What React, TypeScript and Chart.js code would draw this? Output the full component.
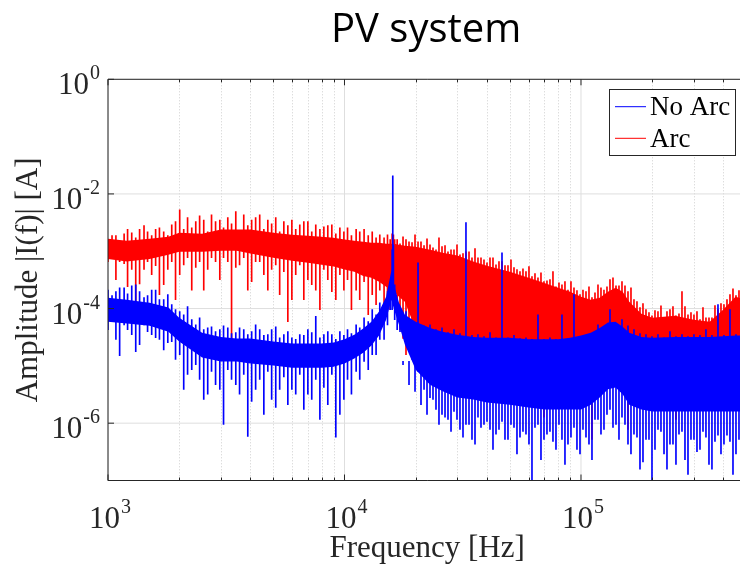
import React, { useEffect, useRef } from 'react';
import { Chart, registerables } from 'chart.js';

Chart.register(...registerables);

// ---------- DATA ----------
// Frequencies (Hz) at which the solid core of each noisy band was read
const bandFreq = [
  1000, 1200, 1500, 1800, 2000, 2500, 3000, 3500, 4000, 5000,
  6000, 7000, 8000, 9000, 10000, 11000, 12000, 13000, 14000, 15000,
  15800, 16200, 17000, 18000, 20000, 23000, 26000, 30000, 35000, 40000,
  50000, 60000, 70000, 80000, 90000, 100000, 110000, 120000, 130000, 140000,
  150000, 160000, 180000, 200000, 250000, 300000, 350000, 400000, 450000, 500000,
];

// "Arc": upper / lower edge of the dense core (A)
const arcBandHigh = [
  1.65e-3, 1.52e-3, 1.65e-3, 1.79e-3, 2.1e-3, 2.02e-3, 2.4e-3, 2.4e-3, 2.4e-3, 2.1e-3,
  1.94e-3, 1.87e-3, 1.79e-3, 1.72e-3, 1.6e-3, 1.52e-3, 1.46e-3, 1.41e-3, 1.41e-3, 1.35e-3,
  1.35e-3, 1.35e-3, 1.3e-3, 1.25e-3, 1.2e-3, 1.06e-3, 9.4e-4, 8.4e-4, 6.6e-4, 5.6e-4,
  4.4e-4, 3.45e-4, 2.8e-4, 2.3e-4, 1.97e-4, 1.61e-4, 1.43e-4, 1.55e-4, 1.97e-4, 2.3e-4,
  1.97e-4, 1.32e-4, 8.1e-5, 6.9e-5, 7.5e-5, 6.4e-5, 5.9e-5, 9.6e-5, 1.61e-4, 1.43e-4,
];
const arcBandLow = [
  7.3e-4, 6.6e-4, 7.3e-4, 8.7e-4, 9.8e-4, 9.8e-4, 1.02e-3, 1.02e-3, 9.1e-4, 7.7e-4,
  6.8e-4, 6.3e-4, 5.8e-4, 5.4e-4, 4.8e-4, 4.4e-4, 3.7e-4, 3.45e-4, 2.95e-4, 2.4e-4,
  2.1e-4, 1.97e-4, 1.61e-4, 1.32e-4, 4.3e-5, 1.5e-5, 1.5e-5, 1.5e-5, 1.5e-5, 1.5e-5,
  1.5e-5, 1.5e-5, 1.5e-5, 1.5e-5, 1.5e-5, 1.5e-5, 1.5e-5, 1.5e-5, 1.5e-5, 1.5e-5,
  1.5e-5, 1.5e-5, 1.5e-5, 1.5e-5, 1.5e-5, 1.5e-5, 1.5e-5, 1.5e-5, 1.5e-5, 1.5e-5,
];

// "No Arc": upper / lower edge of the dense core (A)
const noArcBandHigh = [
  1.55e-4, 1.43e-4, 1.26e-4, 1.04e-4, 6.9e-5, 3.8e-5, 3.2e-5, 3.0e-5, 3.0e-5, 2.65e-5,
  2.45e-5, 2.45e-5, 2.45e-5, 2.55e-5, 2.9e-5, 3.5e-5, 4.5e-5, 5.9e-5, 8.9e-5, 1.61e-4,
  4.7e-4, 2.6e-4, 1.26e-4, 7.8e-5, 5.9e-5, 4.6e-5, 3.95e-5, 3.5e-5, 3.2e-5, 3.1e-5,
  3.1e-5, 2.9e-5, 2.9e-5, 2.9e-5, 3.1e-5, 3.4e-5, 3.8e-5, 4.6e-5, 5.7e-5, 5.9e-5,
  4.8e-5, 3.8e-5, 3.2e-5, 3.1e-5, 3.2e-5, 3.2e-5, 3.2e-5, 3.3e-5, 3.4e-5, 3.4e-5,
];
const noArcBandLow = [
  5.9e-5, 5.5e-5, 5.0e-5, 3.95e-5, 2.65e-5, 1.4e-5, 1.19e-5, 1.19e-5, 1.1e-5, 1.01e-5,
  9.3e-6, 9.3e-6, 9.3e-6, 9.7e-6, 1.1e-5, 1.34e-5, 1.7e-5, 2.26e-5, 3.4e-5, 6.4e-5,
  1.43e-4, 9.6e-5, 5.2e-5, 2.35e-5, 8.6e-6, 4.7e-6, 3.6e-6, 2.8e-6, 2.6e-6, 2.3e-6,
  2.1e-6, 1.88e-6, 1.73e-6, 1.73e-6, 1.73e-6, 1.73e-6, 2.1e-6, 2.8e-6, 3.9e-6, 4.2e-6,
  3.2e-6, 2.1e-6, 1.73e-6, 1.6e-6, 1.6e-6, 1.6e-6, 1.6e-6, 1.6e-6, 1.6e-6, 1.6e-6,
];

// Frequencies (Hz) of individual spikes of the traces
const spikeFreq = [
  1000, 1040, 1080, 1120, 1170, 1210, 1260, 1310, 1360, 1420,
  1470, 1530, 1590, 1650, 1720, 1790, 1860, 1930, 2010, 2090,
  2170, 2260, 2350, 2440, 2540, 2640, 2740, 2850, 2970, 3080,
  3210, 3330, 3470, 3600, 3750, 3900, 4050, 4210, 4380, 4560,
  4740, 4920, 5120, 5320, 5540, 5760, 5990, 6220, 6470, 6730,
  7000, 7270, 7560, 7870, 8180, 8500, 8840, 9190, 9560, 9940,
  10300, 10700, 11200, 11600, 12100, 12600, 13100, 13600, 14100, 14700,
  15200, 15600, 15900, 16000, 16100, 16300, 16700, 17170, 18200, 19300,
  20460, 21690, 22990, 24370, 25840, 27390, 29040, 30780, 32630, 34600,
  36680, 38890, 41230, 43710, 46340, 49120, 52080, 55210, 58530, 62050,
  65780, 69740, 73930, 78380, 83090, 88100, 93400, 99030, 104980, 111290,
  117990, 125080, 132610, 140590, 149050, 158010, 167510, 177590, 188270, 199600,
  211600, 224400, 237800, 252100, 267300, 283400, 300400, 318500, 337600, 357900,
  379500, 402300, 426500, 452200, 479400, 500000,
];

// "Arc": top / bottom tip of the trace at each spike frequency (A)
const arcSpikeHigh = [
  1.6e-3, 1.87e-3, 1.87e-3, 1.46e-3, 2.02e-3, 2.4e-3, 2.1e-3, 1.72e-3, 2.4e-3, 2.8e-3,
  2.19e-3, 1.87e-3, 2.4e-3, 2.57e-3, 2.19e-3, 1.87e-3, 2.9e-3, 3.3e-3, 5.3e-3, 2.4e-3,
  3.85e-3, 2.57e-3, 3.3e-3, 4.15e-3, 3.5e-3, 2.19e-3, 4.3e-3, 3.3e-3, 3.5e-3, 2.57e-3,
  3.85e-3, 3.0e-3, 4.9e-3, 2.19e-3, 4.3e-3, 2.8e-3, 3.5e-3, 3.85e-3, 4.3e-3, 2.4e-3,
  3.5e-3, 3.0e-3, 3.85e-3, 2.19e-3, 3.3e-3, 2.8e-3, 3.5e-3, 2.4e-3, 2.9e-3, 3.3e-3,
  3.3e-3, 2.19e-3, 2.9e-3, 2.4e-3, 2.67e-3, 2.8e-3, 2.9e-3, 2.02e-3, 2.57e-3, 2.19e-3,
  2.57e-3, 1.87e-3, 2.4e-3, 2.19e-3, 2.4e-3, 1.87e-3, 2.19e-3, 1.72e-3, 1.94e-3, 1.72e-3,
  1.94e-3, 1.6e-3, 2.02e-3, 1.72e-3, 1.94e-3, 1.6e-3, 1.6e-3, 1.35e-3, 1.6e-3, 1.41e-3,
  1.46e-3, 1.25e-3, 1.3e-3, 1.06e-3, 1.2e-3, 9.8e-4, 1.06e-3, 8.7e-4, 9.8e-4, 7.7e-4,
  7.7e-4, 7.1e-4, 7.7e-4, 5.8e-4, 6.6e-4, 5.6e-4, 5.2e-4, 4.4e-4, 4.4e-4, 3.6e-4,
  3.45e-4, 2.95e-4, 3.2e-4, 2.4e-4, 2.6e-4, 2.1e-4, 2.3e-4, 1.75e-4, 1.97e-4, 1.55e-4,
  2.6e-4, 2.1e-4, 3.2e-4, 2.5e-4, 2.95e-4, 1.97e-4, 1.43e-4, 1.04e-4, 9.6e-5, 7.5e-5,
  8.9e-5, 6.9e-5, 9.6e-5, 7.5e-5, 1.97e-4, 7.8e-5, 7.8e-5, 6.4e-5, 6.9e-5, 6.9e-5,
  9.6e-5, 1.17e-4, 1.75e-4, 1.68e-4, 1.75e-4, 1.43e-4,
];
const arcSpikeLow = [
  6.6e-4, 7.7e-4, 3.2e-4, 6.6e-4, 6.1e-4, 2.4e-4, 4.8e-4, 9.6e-5, 2.7e-4, 4.8e-4,
  6.6e-4, 3.9e-4, 5.6e-4, 1.75e-4, 2.6e-4, 4.8e-4, 6.6e-4, 1.43e-4, 3.9e-4, 5.8e-4,
  7.7e-4, 2.1e-4, 5.2e-4, 6.6e-4, 2.1e-4, 4.8e-4, 7.7e-4, 6.6e-4, 3.2e-4, 7.7e-4,
  6.6e-4, 2.2e-5, 5.2e-4, 5.8e-4, 7.7e-4, 2.1e-4, 2.95e-4, 6.6e-4, 6.6e-4, 3.9e-4,
  2.1e-4, 4.8e-4, 5.8e-4, 1.75e-4, 4.4e-4, 5.9e-5, 1.43e-4, 3.9e-4, 5.8e-4, 1.43e-4,
  3.2e-4, 2.6e-4, 2.1e-4, 9.6e-5, 4.8e-4, 3.2e-4, 1.97e-4, 1.43e-4, 3.9e-4, 2.1e-4,
  3.2e-4, 9.6e-5, 2.1e-4, 1.43e-4, 2.95e-4, 7.8e-5, 1.75e-4, 1.17e-4, 2.1e-4, 6.4e-5,
  1.43e-4, 9.6e-5, 1.75e-4, 1.43e-4, 1.43e-4, 1.17e-4, 9.6e-5, 4.3e-5, 1.57e-5, 2.35e-5,
  1.57e-5, 1.9e-5, 1.57e-5, 1.57e-5, 1.57e-5, 2.9e-5, 1.57e-5, 1.29e-5, 1.57e-5, 1.9e-5,
  1.29e-5, 1.29e-5, 1.29e-5, 1.05e-5, 1.29e-5, 1.29e-5, 1.05e-5, 8.6e-6, 1.29e-5, 1.05e-5,
  1.05e-5, 1.27e-6, 1.05e-5, 8.6e-6, 1.05e-5, 7.1e-6, 1.05e-5, 8.6e-6, 1.05e-5, 5.2e-7,
  1.05e-5, 5.8e-6, 1.05e-5, 5.8e-6, 1.05e-5, 7.8e-7, 1.05e-5, 4.7e-6, 1.05e-5, 3.9e-6,
  1.05e-5, 3.2e-6, 1.05e-5, 1.16e-6, 1.05e-5, 3.9e-6, 1.05e-5, 3.2e-6, 1.05e-5, 2.6e-6,
  1.05e-5, 3.2e-6, 1.05e-5, 2.6e-6, 1.05e-5, 5.8e-6,
];

// "No Arc": top / bottom tip of the trace at each spike frequency (A)
const noArcSpikeHigh = [
  2.1e-4, 1.68e-4, 1.97e-4, 2.3e-4, 2.3e-4, 1.8e-4, 2.5e-4, 2.6e-4, 1.97e-4, 1.55e-4,
  1.68e-4, 2.1e-4, 2.1e-4, 1.43e-4, 1.43e-4, 1.75e-4, 1.17e-4, 9.6e-5, 8.9e-5, 7.8e-5,
  1.08e-4, 6.4e-5, 5.2e-5, 6.9e-5, 4.3e-5, 4.6e-5, 4.8e-5, 3.95e-5, 4.3e-5, 5.0e-5,
  4.6e-5, 3.65e-5, 3.8e-5, 4.6e-5, 4.3e-5, 3.5e-5, 3.95e-5, 5.2e-5, 4.3e-5, 3.4e-5,
  3.5e-5, 4.3e-5, 4.8e-5, 3.1e-5, 3.5e-5, 3.95e-5, 3.1e-5, 2.9e-5, 3.5e-5, 3.4e-5,
  4.3e-5, 3.8e-5, 7.3e-5, 3.1e-5, 3.5e-5, 3.95e-5, 3.5e-5, 2.9e-5, 3.95e-5, 3.4e-5,
  4.3e-5, 3.65e-5, 5.2e-5, 4.6e-5, 6.9e-5, 5.9e-5, 9.6e-5, 7.8e-5, 1.26e-4, 1.17e-4,
  1.97e-4, 2.1e-4, 1.06e-3, 2.07e-2, 1.3e-3, 2.6e-4, 1.43e-4, 6.9e-5, 8.9e-5, 5.9e-5,
  6.3e-4, 5.0e-5, 5.2e-5, 4.3e-5, 4.6e-5, 3.8e-5, 4.3e-5, 3.65e-5, 3.15e-3, 3.4e-5,
  3.5e-5, 3.25e-5, 3.8e-5, 3.1e-5, 9.4e-4, 3.1e-5, 3.4e-5, 3.0e-5, 3.1e-5, 2.9e-5,
  7.8e-5, 2.9e-5, 3.1e-5, 2.9e-5, 7.8e-5, 3.0e-5, 1.75e-4, 3.25e-5, 3.4e-5, 3.5e-5,
  5.2e-5, 4.3e-5, 9.6e-5, 5.5e-5, 6.4e-5, 5.0e-5, 4.3e-5, 3.65e-5, 3.5e-5, 3.25e-5,
  3.5e-5, 3.1e-5, 3.95e-5, 3.25e-5, 3.5e-5, 3.25e-5, 3.5e-5, 3.4e-5, 4.3e-5, 3.4e-5,
  1.17e-4, 3.4e-5, 9.6e-5, 3.5e-5, 4.3e-5, 3.5e-5,
];
const noArcSpikeLow = [
  4.3e-5, 6.9e-5, 2.9e-5, 1.5e-5, 5.2e-5, 4.3e-5, 3.5e-5, 1.77e-5, 2.35e-5, 5.2e-5,
  3.95e-5, 3.5e-5, 3.1e-5, 2.9e-5, 1.9e-5, 2.55e-5, 2.65e-5, 1.29e-5, 1.57e-5, 3.9e-6,
  7.1e-6, 8.6e-6, 1.05e-5, 5.8e-6, 2.6e-6, 3.2e-6, 8.0e-6, 4.7e-6, 3.9e-6, 9.5e-7,
  8.6e-6, 5.8e-6, 4.7e-6, 3.2e-6, 7.1e-6, 5.9e-7, 2.4e-6, 3.9e-6, 5.8e-6, 1.42e-6,
  8.0e-6, 2.6e-6, 1.88e-6, 3.9e-6, 6.4e-6, 2.1e-6, 3.9e-6, 3.2e-6, 7.1e-6, 1.73e-6,
  3.2e-6, 2.6e-6, 5.8e-6, 1.16e-6, 4.2e-6, 2.1e-6, 7.1e-6, 5.7e-7, 1.42e-6, 2.6e-6,
  5.8e-6, 3.2e-6, 8.0e-6, 5.8e-6, 1.19e-5, 8.6e-6, 1.57e-5, 1.57e-5, 2.9e-5, 2.9e-5,
  5.2e-5, 9.6e-5, 9.6e-5, 2.1e-4, 1.43e-4, 6.4e-5, 4.3e-5, 3.95e-5, 2.35e-5, 1.29e-5,
  8.0e-6, 3.9e-6, 2.8e-6, 1.73e-6, 1.42e-6, 1.16e-6, 1.6e-6, 7.8e-7, 9.5e-7, 5.2e-7,
  1.27e-6, 9.5e-7, 7.8e-7, 6.4e-7, 1.07e-6, 5.2e-7, 8.4e-7, 5.7e-7, 6.4e-7, 9e-8,
  9.5e-7, 5.2e-7, 7.2e-7, 3.5e-7, 5.2e-7, 4.3e-7, 8.4e-7, 2.9e-7, 5.7e-7, 2.3e-7,
  1.16e-6, 7.8e-7, 1.73e-6, 9.5e-7, 1.27e-6, 4.3e-7, 6.4e-7, 1.57e-7, 5.2e-7, 9e-8,
  7.8e-7, 2.9e-7, 4.3e-7, 1.9e-7, 7.2e-7, 1.28e-7, 5.2e-7, 3.5e-7, 5.7e-7, 1.57e-7,
  6.2e-7, 4.3e-7, 4.8e-7, 2.9e-7, 7.8e-7, 1.16e-6,
];

// Extra spikes in the dense high-frequency part (Hz): "Arc" upward tips, "No Arc" downward tips (A)
const hfSpikeFreq = [
  17680, 18740, 19870, 21060, 22330, 23670, 25090, 26610, 28210, 29900,
  31700, 33610, 35630, 37770, 40040, 42450, 45000, 47710, 50580, 53620,
  56840, 60260, 63890, 67730, 71800, 76120, 80700, 85550, 90700, 96150,
  101950, 108090, 114590, 121480, 128790, 136540, 144750, 153460, 162690, 172480,
  182850, 193850, 205510, 217870, 230980, 244870, 259600, 275230, 291780, 309330,
  327950, 347680, 368590, 390770, 414280, 439200, 465620, 493630,
];
const arcHfTip = [
  1.79e-3, 1.46e-3, 1.94e-3, 1.46e-3, 1.65e-3, 1.15e-3, 1.72e-3, 1.25e-3, 1.06e-3, 1.3e-3,
  9.1e-4, 9.8e-4, 1.11e-3, 7.7e-4, 6.3e-4, 7.7e-4, 6.6e-4, 5.6e-4, 7.1e-4, 4.8e-4,
  4.95e-4, 5.4e-4, 4.06e-4, 4.2e-4, 3.06e-4, 4.4e-4, 2.8e-4, 2.95e-4, 2.95e-4, 2.05e-4,
  2.1e-4, 2.4e-4, 1.89e-4, 2.3e-4, 2.4e-4, 3.45e-4, 2.5e-4, 2.5e-4, 2.3e-4, 1.32e-4,
  1.22e-4, 8.5e-5, 9.2e-5, 1.12e-4, 8.9e-5, 1.08e-4, 8.1e-5, 1.08e-4, 8.5e-5, 8.9e-5,
  1.04e-4, 6.9e-5, 1.13e-4, 1.22e-4, 1.43e-4, 2.22e-4, 2.05e-4, 1.8e-4,
];
const noArcHfTip = [
  1.05e-5, 4.7e-6, 3.6e-6, 2.1e-6, 1.42e-6, 2.6e-6, 9.5e-7, 1.27e-6, 7.2e-7, 1.16e-6,
  5.7e-7, 9.5e-7, 4.3e-7, 8.4e-7, 1.07e-6, 3.5e-7, 7.8e-7, 5.2e-7, 9.5e-7, 2.9e-7,
  7.2e-7, 4.3e-7, 8.4e-7, 2.3e-7, 6.4e-7, 4.8e-7, 9.5e-7, 1.9e-7, 5.7e-7, 3.5e-7,
  7.8e-7, 4.3e-7, 1.16e-6, 6.4e-7, 1.42e-6, 8.4e-7, 5.2e-7, 9.5e-7, 2.9e-7, 5.7e-7,
  2.1e-7, 5.2e-7, 3.5e-7, 7.2e-7, 1.57e-7, 4.3e-7, 6.4e-7, 2.3e-7, 5.2e-7, 3.2e-7,
  7.2e-7, 1.9e-7, 4.8e-7, 2.9e-7, 6.2e-7, 1.28e-7, 5.2e-7, 3.5e-7,
];

// Axes / ticks
const xRange = [1000, 500000];
const yRange = [1e-7, 1];
const xMajorTicks = [1e3, 1e4, 1e5];
const xTickExponents = ['3', '4', '5'];
const xMinorTicks = [
  2e3, 3e3, 4e3, 5e3, 6e3, 7e3, 8e3, 9e3,
  2e4, 3e4, 4e4, 5e4, 6e4, 7e4, 8e4, 9e4,
  2e5, 3e5, 4e5,
];
const yTicks = [1, 1e-2, 1e-4, 1e-6];
const yTickExponents = ['0', '-2', '-4', '-6'];
const seriesNames = ['No Arc', 'Arc'];
const seriesColors = ['#0000ff', '#ff0000'];
const titleText = 'PV system';
const xLabel = 'Frequency [Hz]';
const yLabel = 'Amplitude |I(f)| [A]';

// ---------- STYLE ----------
const SERIF = "'Liberation Serif', 'Times New Roman', serif";
const AXIS = '#262626';

function pts(xs: number[], ys: number[]) {
  return xs.map((x, i) => ({ x, y: ys[i] }));
}
function ranges(xs: number[], lo: number[], hi: number[]) {
  return xs.map((x, i) => ({ x, y: [lo[i], hi[i]] }));
}

function drawPow(
  ctx: CanvasRenderingContext2D,
  exp: string,
  x: number,
  baseY: number,
  align: 'right' | 'center',
) {
  ctx.font = `31px ${SERIF}`;
  const wb = ctx.measureText('10').width;
  ctx.font = `20px ${SERIF}`;
  const we = ctx.measureText(exp).width;
  const total = wb + 1 + we;
  const left = align === 'right' ? x - total : x - total / 2;
  ctx.textAlign = 'left';
  ctx.textBaseline = 'alphabetic';
  ctx.font = `31px ${SERIF}`;
  ctx.fillText('10', left, baseY);
  ctx.font = `20px ${SERIF}`;
  ctx.fillText(exp, left + wb + 1, baseY - 15);
}

const matlabAxes = {
  id: 'matlabAxes',
  beforeDatasetsDraw(chart: any) {
    const { ctx, chartArea: a, scales } = chart;
    const x = scales.x;
    const y = scales.y;
    ctx.save();
    ctx.lineWidth = 1;
    ctx.strokeStyle = '#cfcfcf';
    ctx.setLineDash([1, 2]);
    for (const v of xMinorTicks) {
      const px = Math.round(x.getPixelForValue(v)) + 0.5;
      ctx.beginPath();
      ctx.moveTo(px, a.top);
      ctx.lineTo(px, a.bottom);
      ctx.stroke();
    }
    ctx.setLineDash([]);
    ctx.strokeStyle = '#dedede';
    for (const v of xMajorTicks) {
      const px = x.getPixelForValue(v);
      ctx.beginPath();
      ctx.moveTo(px, a.top);
      ctx.lineTo(px, a.bottom);
      ctx.stroke();
    }
    for (const v of yTicks) {
      const py = y.getPixelForValue(v);
      ctx.beginPath();
      ctx.moveTo(a.left, py);
      ctx.lineTo(a.right, py);
      ctx.stroke();
    }
    ctx.restore();
  },
  afterDatasetsDraw(chart: any) {
    const { ctx, chartArea: a, scales } = chart;
    const x = scales.x;
    const y = scales.y;
    ctx.save();
    ctx.strokeStyle = AXIS;
    ctx.lineWidth = 1;
    ctx.beginPath();
    ctx.moveTo(a.left, a.top);
    ctx.lineTo(a.left, a.bottom);
    ctx.moveTo(a.left, a.bottom);
    ctx.lineTo(a.right, a.bottom);
    ctx.moveTo(a.left, a.top);
    ctx.lineTo(a.right, a.top);
    ctx.stroke();
    ctx.beginPath();
    for (const v of xMajorTicks) {
      const px = x.getPixelForValue(v);
      ctx.moveTo(px, a.bottom);
      ctx.lineTo(px, a.bottom - 6);
      ctx.moveTo(px, a.top);
      ctx.lineTo(px, a.top + 6);
    }
    for (const v of xMinorTicks) {
      const px = Math.round(x.getPixelForValue(v)) + 0.5;
      ctx.moveTo(px, a.bottom);
      ctx.lineTo(px, a.bottom - 3);
      ctx.moveTo(px, a.top);
      ctx.lineTo(px, a.top + 3);
    }
    for (const v of yTicks) {
      const py = y.getPixelForValue(v);
      ctx.moveTo(a.left, py);
      ctx.lineTo(a.left + 6, py);
    }
    ctx.stroke();

    ctx.fillStyle = AXIS;
    xMajorTicks.forEach((v, i) => {
      drawPow(ctx, xTickExponents[i], x.getPixelForValue(v) + 2, 528, 'center');
    });
    yTicks.forEach((v, i) => {
      drawPow(ctx, yTickExponents[i], a.left - 8, y.getPixelForValue(v) + 15, 'right');
    });

    ctx.font = `31px ${SERIF}`;
    ctx.textAlign = 'center';
    ctx.textBaseline = 'alphabetic';
    ctx.fillText(xLabel, (a.left + a.right) / 2, 557);
    ctx.save();
    ctx.translate(37, (a.top + a.bottom) / 2);
    ctx.rotate(-Math.PI / 2);
    ctx.fillText(yLabel, 0, 0);
    ctx.restore();

    ctx.fillStyle = '#000';
    ctx.font = `40px 'Open Sans', 'Noto Sans', sans-serif`;
    ctx.textAlign = 'center';
    ctx.fillText(titleText, (a.left + a.right) / 2 - 1, 42);

    const lx = 609.5, ly = 89.5, lw = 126, lh = 66;
    ctx.fillStyle = '#fff';
    ctx.fillRect(lx, ly, lw, lh);
    ctx.strokeStyle = AXIS;
    ctx.strokeRect(lx, ly, lw, lh);
    const rows = [106.7, 138.3];
    seriesNames.forEach((name, i) => {
      ctx.strokeStyle = seriesColors[i];
      ctx.lineWidth = 1;
      ctx.beginPath();
      ctx.moveTo(615, rows[i]);
      ctx.lineTo(646, rows[i]);
      ctx.stroke();
      ctx.fillStyle = '#000';
      ctx.font = `27px ${SERIF}`;
      ctx.textAlign = 'left';
      ctx.fillText(name, 650, rows[i] + 8.5);
    });
    ctx.restore();
  },
};

export default function App() {
  const ref = useRef<HTMLCanvasElement>(null);
  useEffect(() => {
    const canvas = ref.current;
    if (!canvas) return;
    const spikes = { type: 'bar', barThickness: 1, grouped: false, borderWidth: 0 };
    const band = { borderColor: 'transparent', borderWidth: 0, pointRadius: 0 };
    const chart = new Chart(canvas, {
      type: 'line',
      data: {
        datasets: [
          { ...spikes, label: seriesNames[0], data: ranges(spikeFreq, noArcSpikeLow, noArcSpikeHigh), backgroundColor: seriesColors[0], order: 0 },
          { ...spikes, label: 'noArcHf', data: pts(hfSpikeFreq, noArcHfTip), base: 1.2e-5, backgroundColor: seriesColors[0], order: 0 },
          { ...band, label: 'noArcHigh', data: pts(bandFreq, noArcBandHigh), fill: false, order: 1 },
          { ...band, label: 'noArcLow', data: pts(bandFreq, noArcBandLow), backgroundColor: seriesColors[0], fill: 2, order: 1 },
          { ...spikes, label: seriesNames[1], data: ranges(spikeFreq, arcSpikeLow, arcSpikeHigh), backgroundColor: seriesColors[1], order: 2 },
          { ...spikes, label: 'arcHf', data: pts(hfSpikeFreq, arcHfTip), base: 3e-5, backgroundColor: seriesColors[1], order: 2 },
          { ...band, label: 'arcHigh', data: pts(bandFreq, arcBandHigh), fill: false, order: 3 },
          { ...band, label: 'arcLow', data: pts(bandFreq, arcBandLow), backgroundColor: seriesColors[1], fill: 6, order: 3 },
        ],
      },
      options: {
        responsive: false,
        animation: false,
        devicePixelRatio: 1,
        events: [],
        layout: { padding: { left: 108, right: 13.7, top: 79.3, bottom: 89.5 } },
        scales: {
          x: { type: 'logarithmic', min: xRange[0], max: xRange[1], display: false, offset: false },
          y: { type: 'logarithmic', min: yRange[0], max: yRange[1], display: false },
        },
        elements: { line: { tension: 0 }, point: { radius: 0 } },
        plugins: {
          legend: { display: false },
          tooltip: { enabled: false },
          title: { display: false },
        },
      },
      plugins: [matlabAxes],
    } as any);
    return () => chart.destroy();
  }, []);
  return (
    <div
      style={{
        position: 'fixed',
        left: 0,
        top: 0,
        width: 740,
        height: 570,
        overflow: 'hidden',
        background: '#fff',
      }}
    >
      <canvas ref={ref} width={760} height={570} style={{ display: 'block', width: 760, height: 570 }} />
    </div>
  );
}
